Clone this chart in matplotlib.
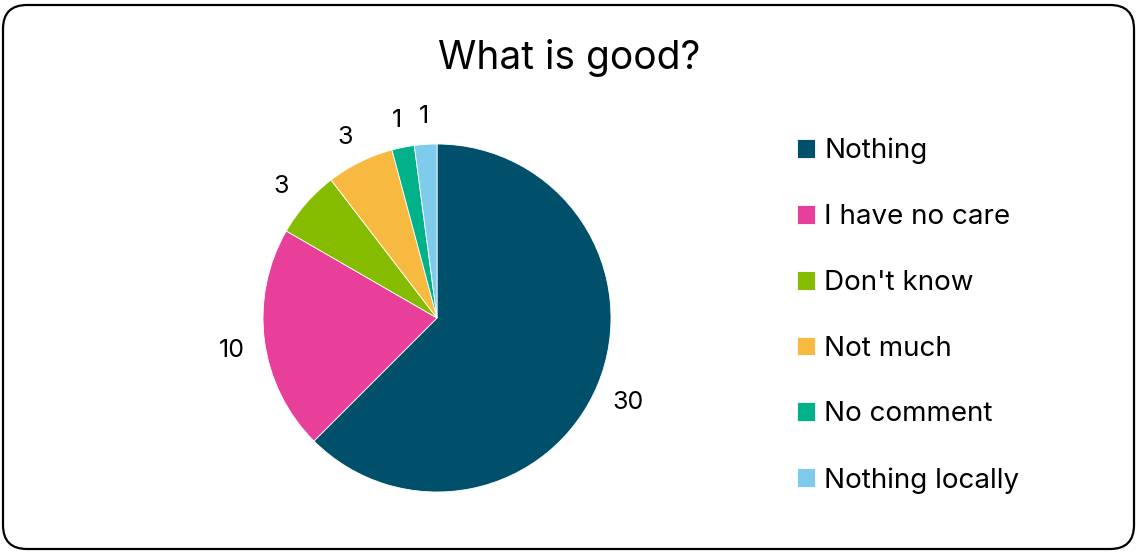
import matplotlib.pyplot as plt
from matplotlib.patches import FancyBboxPatch
from matplotlib.transforms import IdentityTransform
import numpy as np

categories = ["Nothing", "I have no care", "Don't know", "Not much", "No comment", "Nothing locally"]
counts = [30, 10, 3, 3, 1, 1]
colors = ["#01506B", "#E8409A", "#86BC00", "#F8B941", "#00B18A", "#7FCBEB"]

plt.rcParams['font.family'] = ['Inter', 'DejaVu Sans']

W, H = 1137, 552
fig = plt.figure(figsize=(W / 100, H / 100), dpi=100)

# rounded frame around the whole chart (pixel coordinates)
frame = FancyBboxPatch((3, 3), 1131, 544, boxstyle="round,pad=0,rounding_size=24",
                       transform=IdentityTransform(), fill=False, edgecolor="black", lw=1.6)
fig.add_artist(frame)

fig.text(569 / W, 1 - 58 / H, "What is good?", ha="center", va="center", fontsize=28)

# pie axes: centre (437, 318), radius 174 px
cx, cy, r = 437, 318, 174
ax = fig.add_axes([(cx - r) / W, (H - cy - r) / H, 2 * r / W, 2 * r / H])
wedges, _ = ax.pie(counts, colors=colors, startangle=90, counterclock=False,
                   wedgeprops=dict(linewidth=0.6, edgecolor="white"))
ax.set_xlim(-1, 1)
ax.set_ylim(-1, 1)
ax.set_aspect("equal")

# value labels just outside each slice
for w, v in zip(wedges, counts):
    mid = np.deg2rad((w.theta1 + w.theta2) / 2)
    ax.text(1.19 * np.cos(mid), 1.19 * np.sin(mid) - 0.03, str(v), ha="center", va="center",
            fontsize=18, clip_on=False)

fig.legend(wedges, categories, loc="upper left", bbox_to_anchor=(797 / W, 1 - 138 / H),
           frameon=False, fontsize=20, labelspacing=1.43, handlelength=0.66, handleheight=0.66,
           handletextpad=0.33, borderaxespad=0, borderpad=0)

fig.savefig("out.png", dpi=100)
